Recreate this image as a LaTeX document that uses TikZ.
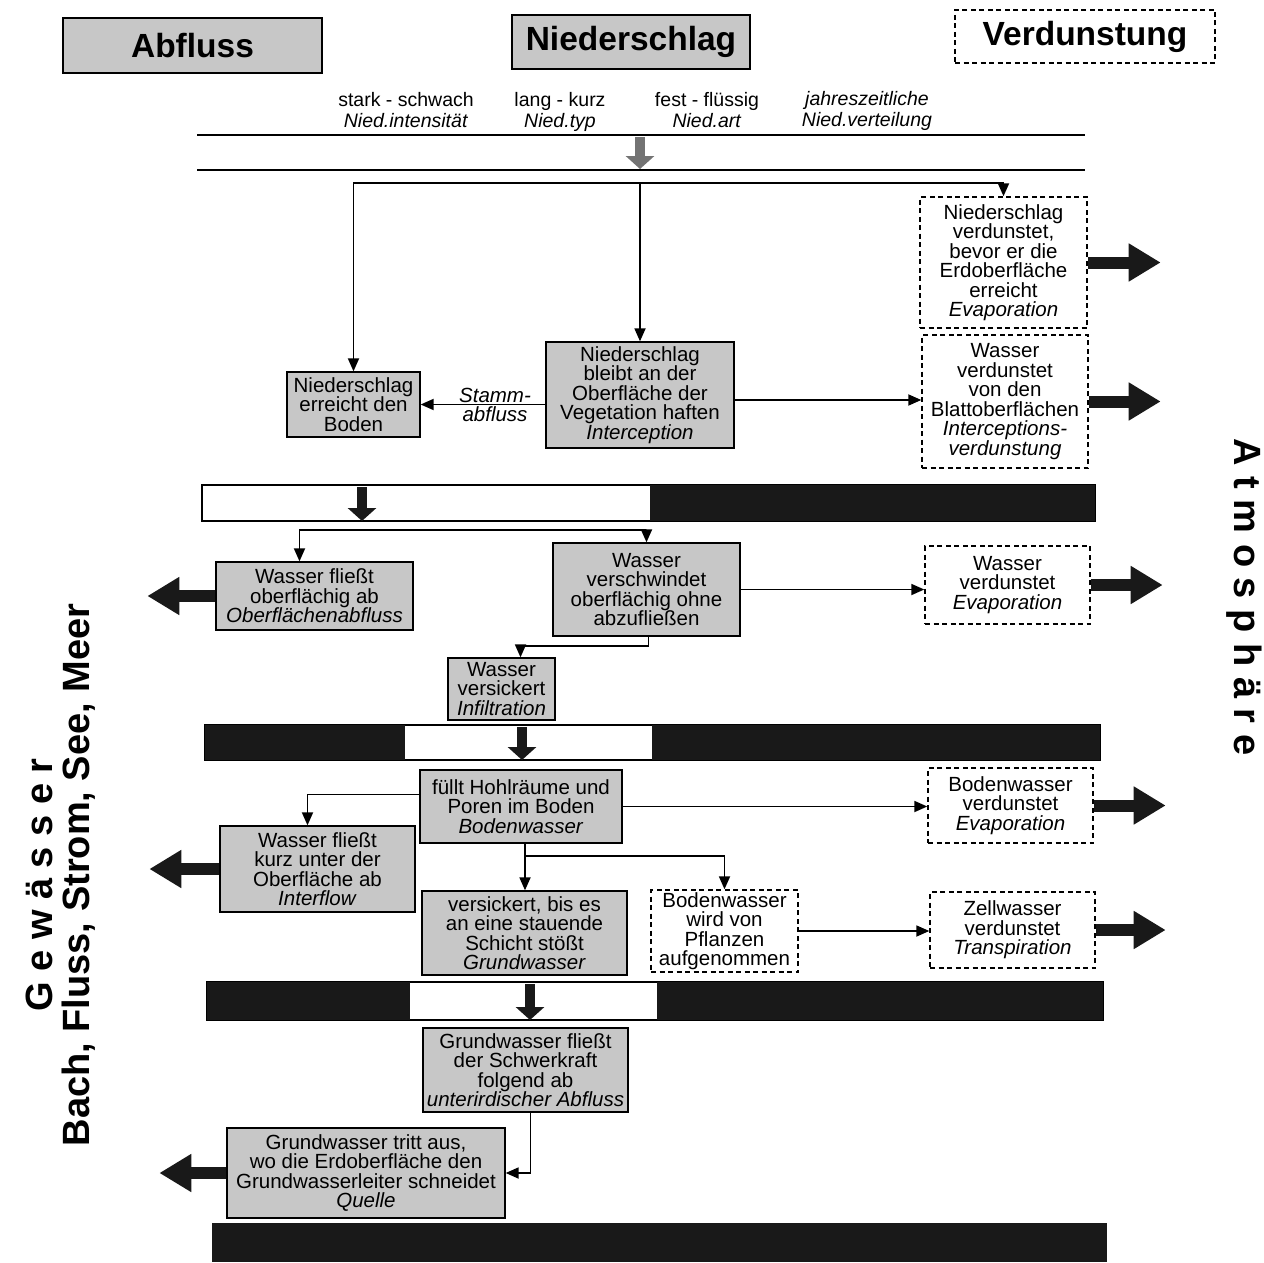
\documentclass[tikz,border=0pt]{standalone}
\usepackage{fontspec}
\setmainfont{Liberation Sans}
\usetikzlibrary{arrows.meta,calc}
\definecolor{boxgray}{gray}{0.78}
\definecolor{barblack}{gray}{0.1}
\definecolor{arrgray}{gray}{0.45}
\newcommand{\bodyfs}{\fontsize{20.5}{19.5}\selectfont}
\newcommand{\lblfs}{\fontsize{19.5}{19.5}\selectfont}
\newcommand{\headfs}{\fontsize{33.5}{36}\selectfont\bfseries}
\newcommand{\sidefs}{\fontsize{38}{42}\selectfont\bfseries}
\begin{document}
\begin{tikzpicture}[x=1pt,y=-1pt,
  >={Triangle[length=13pt,width=11pt]},
  gbox/.style={draw, fill=boxgray, line width=1.3pt, align=center, inner sep=0pt, font=\bodyfs},
  dbox/.style={draw, dash pattern=on 5pt off 3.5pt, line width=1.4pt, align=center, inner sep=0pt, font=\bodyfs, fill=white},
  cline/.style={line width=1.8pt},
  bigarr/.style={line width=12pt, draw=barblack, -{Triangle[length=32pt,width=36pt]}},
  downarr/.style={line width=10pt, -{Triangle[length=13pt,width=28pt]}},
  barline/.style={line width=1.5pt},
  lbl/.style={font=\lblfs, align=center, inner sep=0pt}
]
\useasboundingbox (0,0) rectangle (1264,1263);

% side texts
\node[font=\sidefs, rotate=90] (gew) at (39,885) {G e w ä s s e r};
\node[font=\sidefs, rotate=90] (bach) at (79,875) {Bach, Fluss, Strom, See, Meer};
\node[font=\sidefs, rotate=-90] (atm) at (1244,597) {A t m o s p h ä r e};

% headers
\node[gbox, font=\headfs, minimum width=259pt, minimum height=55pt] (abfl) at (192.5,45.5) {Abfluss};
\node[gbox, font=\headfs, minimum width=238pt, minimum height=54pt] (nied) at (631,42) {Niederschlag};
\node[dbox, font=\headfs, minimum width=260pt, minimum height=53pt] (verd) at (1085,36.5) {Verdunstung};

% top labels
\node[lbl] (l1) at (406,113) {\strut stark - schwach\\\strut\textit{Nied.intensität}};
\node[lbl] (l2) at (560,113) {\strut lang - kurz\\\strut\textit{Nied.typ}};
\node[lbl] (l3) at (707,113) {\strut fest - flüssig\\\strut\textit{Nied.art}};
\node[lbl] (l4) at (867,112) {\strut\textit{jahreszeitliche}\\\strut\textit{Nied.verteilung}};

% top lines
\draw[barline] (197,135) -- (1085,135);
\draw[barline] (197,170) -- (1085,170);
\draw[downarr, arrgray] (640,137) -- (640,169);

% boxes
\node[gbox, minimum width=133pt, minimum height=65pt] (b1) at (353.5,404.5) {Niederschlag\\erreicht den\\Boden};
\node[gbox, minimum width=188pt, minimum height=106pt] (b2) at (640,395) {Niederschlag\\bleibt an der\\Oberfläche der\\Vegetation haften\\\textit{Interception}};
\node[dbox, minimum width=167pt, minimum height=131pt] (b3) at (1003.5,262.5) {Niederschlag\\verdunstet,\\bevor er die\\Erdoberfläche\\erreicht\\\textit{Evaporation}};
\node[dbox, minimum width=166pt, minimum height=133pt] (b4) at (1005,401.5) {Wasser\\verdunstet\\von den\\Blattoberflächen\\\textit{Interceptions-}\\\textit{verdunstung}};
\node[gbox, minimum width=197pt, minimum height=68pt] (b5) at (314.5,596) {Wasser fließt\\oberflächig ab\\\textit{Oberflächenabfluss}};
\node[gbox, minimum width=187pt, minimum height=93pt] (b6) at (646.5,589.5) {Wasser\\verschwindet\\oberflächig ohne\\abzufließen};
\node[dbox, minimum width=165pt, minimum height=78pt] (b7) at (1007.5,585) {Wasser\\verdunstet\\\textit{Evaporation}};
\node[gbox, minimum width=107pt, minimum height=62pt] (b8) at (501.5,689) {Wasser\\versickert\\\textit{Infiltration}};
\node[gbox, minimum width=202pt, minimum height=73pt] (b9) at (521,806.5) {füllt Hohlräume und\\Poren im Boden\\\textit{Bodenwasser}};
\node[gbox, minimum width=195pt, minimum height=86pt] (b10) at (317.5,869) {Wasser fließt\\kurz unter der\\Oberfläche ab\\\textit{Interflow}};
\node[dbox, minimum width=165pt, minimum height=75pt] (b11) at (1010.5,805.5) {Bodenwasser\\verdunstet\\\textit{Evaporation}};
\node[gbox, minimum width=205pt, minimum height=84pt] (b12) at (524.5,933) {versickert, bis es\\an eine stauende\\Schicht stößt\\\textit{Grundwasser}};
\node[dbox, minimum width=147pt, minimum height=82pt] (b13) at (724.5,931) {Bodenwasser\\wird von\\Pflanzen\\aufgenommen};
\node[dbox, minimum width=165pt, minimum height=76pt] (b14) at (1012.5,930) {Zellwasser\\verdunstet\\\textit{Transpiration}};
\node[gbox, minimum width=205pt, minimum height=84pt] (b15) at (525.5,1070) {Grundwasser fließt\\der Schwerkraft\\folgend ab\\\textit{unterirdischer Abfluss}};
\node[gbox, minimum width=278pt, minimum height=90pt] (b16) at (366,1173) {Grundwasser tritt aus,\\wo die Erdoberfläche den\\Grundwasserleiter schneidet\\\textit{Quelle}};

% level 1 connectors
\coordinate (j0) at (640,183);
\draw[cline,<->] (b1.north) -- (b1.north |- j0) -- (b3.north |- j0) -- (b3.north);
\draw[cline,->] (j0) -- (b2.north);
\draw[cline,->] (b2.west |- b1.east) -- (b1.east);
\node[lbl, font={\bodyfs\itshape}] (stamm) at (495,405) {Stamm-\\abfluss};
\draw[cline,->] ([yshift=-5pt]b2.east) -- ([yshift=-5pt]b2.east -| b4.west);
\draw[bigarr] (b3.east) -- ++(73,0);
\draw[bigarr] (b4.east) -- ++(72,0);

% bar 1
\draw[barline] (202,485) rectangle (1095,521);
\fill[barblack] (650,485) rectangle (1095,521);
\draw[downarr, barblack] (362,487) -- (362,521);

\coordinate (j1) at (362,530);
\draw[cline,<->] ([xshift=-15pt]b5.north) |- (j1) -| (b6.north);
\draw[cline,->] (b6.east) -- (b6.east -| b7.west);
\draw[cline,->] ([xshift=2pt]b6.south) -- ++(0,9) -| ([xshift=19pt]b8.north);
\draw[bigarr] (b5.west) -- ++(-68,0);
\draw[bigarr] (b7.east) -- ++(72,0);

% bar 2
\draw[barline] (205,725) rectangle (1100,760);
\fill[barblack] (205,725) rectangle (405,760);
\fill[barblack] (652,725) rectangle (1100,760);
\draw[downarr, barblack] (522,727) -- (522,760);

\draw[cline,->] ([yshift=12pt]b9.west) -| ([xshift=-10pt]b10.north);
\draw[cline,->] (b9.east) -- (b9.east -| b11.west);
\draw[cline,->] ([xshift=4pt]b9.south) -- ([xshift=4pt]b9.south |- b12.north);
\draw[cline,->] ([xshift=4pt]b9.south) -- ++(0,12) -| (b13.north);
\draw[cline,->] (b13.east) -- (b13.east -| b14.west);
\draw[bigarr] (b10.west) -- ++(-70,0);
\draw[bigarr] (b11.east) -- ++(72,0);
\draw[bigarr] (b14.east) -- ++(70,0);

% bar 3
\draw[barline] (207,982) rectangle (1103,1020);
\fill[barblack] (207,982) rectangle (410,1020);
\fill[barblack] (657,982) rectangle (1103,1020);
\draw[downarr, barblack] (530,984) -- (530,1020);

\draw[cline,->] ([xshift=5pt]b15.south) |- (b16.east);
\draw[bigarr] (b16.west) -- ++(-67,0);

% bar 4
\fill[barblack] (212,1223) rectangle (1107,1262);
\end{tikzpicture}
\end{document}
